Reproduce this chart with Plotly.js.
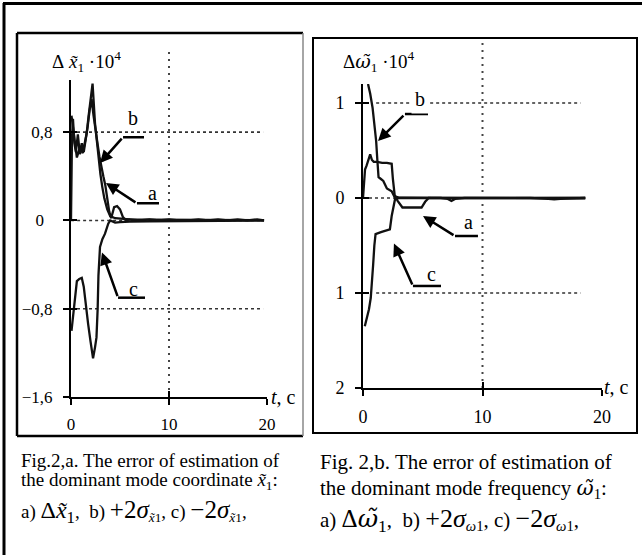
<!DOCTYPE html>
<html><head><meta charset="utf-8">
<script src="https://cdn.plot.ly/plotly-3.0.1.min.js"></script>
<style>html,body{margin:0;padding:0;background:#fff}#chart{width:642px;height:555px}</style>
</head><body><div id="chart"></div>
<script>
// ---------------- DATA ----------------
// Fig.2,a : error of estimation of dominant mode coordinate (x 1e4)
const tL_a = [0, 0.1, 0.2, 0.35, 0.5, 0.7, 0.9, 1.1, 1.3, 1.5, 1.7, 1.9, 2.1, 2.3, 2.5, 2.7, 2.9, 3.1, 3.3, 3.5, 3.7, 3.9, 4.1, 4.4, 4.7, 5.0, 5.3, 5.6, 6, 7, 8, 9, 10, 11, 12, 13, 14, 15, 16, 17, 18, 19, 19.7];
const vL_a = [0, 0.75, 0.92, 0.7, 0.62, 0.78, 0.6, 0.7, 0.62, 0.72, 0.85, 1.0, 1.1, 0.95, 0.8, 0.7, 0.58, 0.48, 0.4, 0.32, 0.2, 0.08, 0.02, 0.12, 0.13, 0.1, 0.03, 0.0, 0.01, 0.0, 0.01, 0.0, 0.01, 0.0, 0.0, 0.01, 0.0, 0.01, 0.0, 0.01, 0.0, 0.01, 0.0];
const tL_b = [0.05, 0.2, 0.4, 0.6, 0.9, 1.2, 1.4, 1.6, 1.8, 1.95, 2.2, 2.45, 2.75, 3.0, 3.2, 3.4, 3.7, 4.0, 4.5, 5, 6, 8, 10, 12, 14, 16, 18, 19.7];
const vL_b = [0.95, 0.85, 0.75, 0.57, 0.66, 0.61, 0.7, 0.79, 0.95, 1.05, 1.24, 0.88, 0.6, 0.42, 0.3, 0.2, 0.1, 0.04, 0.02, 0.015, 0.01, 0.008, 0.006, 0.005, 0.004, 0.003, 0.002, 0.002];
const tL_c = [0.05, 0.2, 0.4, 0.6, 0.85, 1.1, 1.3, 1.45, 1.75, 2.0, 2.25, 2.45, 2.6, 2.72, 2.8, 2.96, 3.2, 3.47, 3.8, 4.0, 4.5, 5, 6, 8, 10, 12, 14, 16, 18, 19.7];
const vL_c = [-1.0, -0.88, -0.73, -0.55, -0.53, -0.52, -0.6, -0.73, -0.94, -1.1, -1.25, -1.15, -1.06, -0.8, -0.5, -0.24, -0.17, -0.12, -0.03, 0, -0.02, -0.015, -0.01, -0.008, -0.006, -0.005, -0.004, -0.003, -0.002, -0.002];

// Fig.2,b : error of estimation of dominant mode frequency (x 1e4)
const tR_a = [0, 0.17, 0.3, 0.45, 0.6, 0.75, 0.9, 1.2, 1.6, 2.0, 2.4, 2.5, 2.65, 2.9, 3.3, 4.0, 4.9, 5.2, 5.5, 6.5, 7.1, 7.4, 7.7, 8.5, 10, 12, 14, 15.5, 16, 16.5, 18.6];
const vR_a = [0, 0.3, 0.34, 0.4, 0.46, 0.4, 0.38, 0.38, 0.37, 0.37, 0.36, 0.2, 0.03, -0.03, -0.1, -0.1, -0.1, -0.04, 0.0, 0.0, -0.01, -0.03, -0.01, 0.0, 0.0, 0.0, 0.0, -0.01, -0.015, -0.01, 0.0];
const tR_b = [0.42, 0.6, 0.8, 0.95, 1.1, 1.2, 1.3, 1.5, 1.7, 2.0, 2.4, 2.6, 3.0, 4, 6, 8, 10, 12, 14, 16, 18.6];
const vR_b = [1.2, 1.1, 0.95, 0.8, 0.6, 0.4, 0.22, 0.2, 0.18, 0.1, 0.07, 0.02, 0.005, 0.003, 0.002, 0.002, 0.001, 0.001, 0.001, 0.001, 0.0];
const tR_c = [0.15, 0.3, 0.5, 0.65, 0.75, 0.85, 0.95, 1.05, 1.5, 2.0, 2.25, 2.4, 2.55, 2.7, 3.0, 4, 6, 8, 10, 12, 14, 16, 18.6];
const vR_c = [-1.35, -1.27, -1.17, -1.05, -0.9, -0.7, -0.5, -0.38, -0.36, -0.34, -0.33, -0.19, -0.08, 0.0, 0.0, -0.002, -0.002, -0.001, -0.001, -0.001, 0, 0, 0];

// ticks and reference levels
const xTicks = [0, 10, 20];
const xTickText = ['0', '10', '20'];
const leftYTicks = [-1.6, -0.8, 0, 0.8];
const leftYTickText = ['\u22121,6', '\u22120,8', '0\u2007', '0,8'];
const rightYTicks = [-2, -1, 0, 1];
const rightYTickText = ['2', '1', '0', '1'];
const leftLevels = [0.8, 0, -0.8];
const rightLevels = [1, 0, -1];
const gridT = 10;

// ---------------- LAYOUT ----------------
const W = 642, H = 555;
const px = x => x / W, py = y => 1 - y / H;
const serif = '"Liberation Serif", "Times New Roman", Times, serif';
const LX = [px(71), px(267)], LY = [py(397), py(80.3)];
const RX = [px(363), px(602)], RY = [py(388), py(84)];
const LRange = [-1.6, 1.27], RRange = [-2, 1.2];

function xAx(domain, anchor, fs, outside) {
  return {domain: domain, range: [0, 20], anchor: anchor, tickmode: 'array', tickvals: xTicks, ticktext: xTickText,
    ticks: outside ? 'outside' : 'inside', ticklen: 6, tickwidth: 2, tickcolor: '#000',
    showticklabels: outside, showline: outside, linewidth: 2, linecolor: '#000',
    showgrid: false, zeroline: false, ticklabelstandoff: 5,
    tickfont: {family: serif, size: fs, color: '#000'}, fixedrange: true};
}
function yAx(domain, anchor, range, vals, text, fs, outside) {
  return {domain: domain, range: range, anchor: anchor, tickmode: 'array', tickvals: vals, ticktext: text,
    ticks: outside ? 'outside' : 'inside', ticklen: 6, tickwidth: 2, tickcolor: '#000',
    showticklabels: outside, showline: outside, linewidth: 2, linecolor: '#000',
    showgrid: false, zeroline: false, ticklabelstandoff: 7,
    tickfont: {family: serif, size: fs, color: '#000'}, fixedrange: true};
}

const curve = {color: '#111', width: 2.3};
const traces = [
  {x: tL_b, y: vL_b, xaxis: 'x', yaxis: 'y', mode: 'lines', line: curve},
  {x: tL_c, y: vL_c, xaxis: 'x', yaxis: 'y', mode: 'lines', line: curve},
  {x: tL_a, y: vL_a, xaxis: 'x', yaxis: 'y', mode: 'lines', line: curve},
  {x: tR_b, y: vR_b, xaxis: 'x2', yaxis: 'y2', mode: 'lines', line: curve},
  {x: tR_c, y: vR_c, xaxis: 'x2', yaxis: 'y2', mode: 'lines', line: curve},
  {x: tR_a, y: vR_a, xaxis: 'x2', yaxis: 'y2', mode: 'lines', line: curve},
  {x: [], y: [], xaxis: 'x3', yaxis: 'y3', mode: 'lines'},
  {x: [], y: [], xaxis: 'x4', yaxis: 'y4', mode: 'lines'}
];

const shapes = [];
const dotH = {color: '#333', width: 1.6, dash: 'dot'};
const dotV = {color: '#444', width: 2, dash: '2px,5px'};
leftLevels.forEach(v => shapes.push({type: 'line', xref: 'x', yref: 'y', x0: v === 0 ? -0.6 : 0, x1: 19.6, y0: v, y1: v, line: dotH, layer: 'below'}));
shapes.push({type: 'line', xref: 'x', yref: 'y domain', x0: gridT, x1: gridT, y0: 0, y1: (397 - 50) / (397 - 80.3), line: dotV, layer: 'below'});
rightLevels.forEach(v => shapes.push({type: 'line', xref: 'x2', yref: 'y2', x0: v === 0 ? 0 : 1.1, x1: 18.2, y0: v, y1: v, line: dotH, layer: 'below'}));
shapes.push({type: 'line', xref: 'x2', yref: 'y2 domain', x0: gridT, x1: gridT, y0: 0, y1: (388 - 40) / (388 - 84), line: dotV, layer: 'below'});
const lead = {color: '#000', width: 2.5};
shapes.push({type: 'line', xref: 'x', yref: 'y', x0: 5.31, x1: 7.45, y0: 0.755, y1: 0.755, line: lead});
shapes.push({type: 'line', xref: 'x', yref: 'y', x0: 6.73, x1: 8.98, y0: 0.155, y1: 0.155, line: lead});
shapes.push({type: 'line', xref: 'x', yref: 'y', x0: 4.8, x1: 7.55, y0: -0.70, y1: -0.70, line: lead});
shapes.push({type: 'line', xref: 'x2', yref: 'y2', x0: 3.51, x1: 5.44, y0: 0.884, y1: 0.884, line: lead});
shapes.push({type: 'line', xref: 'x2', yref: 'y2', x0: 7.7, x1: 9.62, y0: -0.4, y1: -0.4, line: lead});
shapes.push({type: 'line', xref: 'x2', yref: 'y2', x0: 4.18, x1: 6.53, y0: -0.926, y1: -0.926, line: lead});
const pl = (x0, y0, x1, y1, c, w) => ({type: 'line', xref: 'paper', yref: 'paper', x0: px(x0), x1: px(x1), y0: py(y0), y1: py(y1), line: {color: c, width: w}});
shapes.push(pl(3, 3.5, 642, 3.5, '#000', 3));
shapes.push(pl(4, 3, 4, 555, '#000', 3));
shapes.push(pl(17, 33, 303, 33, '#000', 2.5));
shapes.push(pl(17, 33, 17, 436, '#000', 2.5));
shapes.push(pl(17, 436, 303, 436, '#000', 2.5));
shapes.push(pl(303, 33, 303, 436, '#888', 1.5));
shapes.push({type: 'rect', xref: 'paper', yref: 'paper', x0: px(313), x1: px(637), y0: py(433), y1: py(38), line: {color: '#000', width: 2}});

const annotations = [];
function arrow(xr, yr, tx, ty, ax, ay) {
  annotations.push({xref: xr, yref: yr, axref: xr, ayref: yr, x: tx, y: ty, ax: ax, ay: ay, text: '',
    showarrow: true, arrowhead: 2, arrowsize: 1, arrowwidth: 2.5, arrowcolor: '#000', standoff: 0});
}
function label(xr, yr, x, y, t, fs, bg) {
  annotations.push({xref: xr, yref: yr, x: x, y: y, text: t, showarrow: false, xanchor: 'center', yanchor: 'middle',
    font: {family: serif, size: fs, color: '#000'}, bgcolor: bg || 'rgba(0,0,0,0)', borderpad: 3});
}
arrow('x', 'y', 2.96, 0.52, 5.31, 0.755);
arrow('x', 'y', 3.57, 0.34, 6.73, 0.155);
arrow('x', 'y', 3.16, -0.29, 4.8, -0.70);
label('x', 'y', 6.33, 0.93, 'b', 20);
label('x', 'y', 8.27, 0.245, 'a', 20);
label('x', 'y', 6.33, -0.62, 'c', 20);
arrow('x2', 'y2', 1.26, 0.6, 3.51, 0.884);
arrow('x2', 'y2', 5.02, -0.19, 7.7, -0.4);
arrow('x2', 'y2', 2.59, -0.48, 4.18, -0.926);
label('x2', 'y2', 4.77, 1.04, 'b', 20, '#fff');
label('x2', 'y2', 8.79, -0.253, 'a', 20);
label('x2', 'y2', 5.77, -0.8, 'c', 20);

function ptext(x, y, t, fs, anchor) {
  annotations.push({xref: 'paper', yref: 'paper', x: px(x), y: py(y), text: t, showarrow: false,
    xanchor: anchor || 'left', yanchor: 'middle', align: 'left', font: {family: serif, size: fs, color: '#000'}});
}
const xt = '<i>x\u0303</i>';
const wt = "<span style=\"font-family:'DejaVu Serif';font-style:italic\">\u03c9\u0303</span>";
ptext(50, 62, '\u0394\u00a0' + xt + '<sub>1</sub>\u00a0\u00b710<sup>4</sup>', 19);
ptext(341, 62, '\u0394' + wt + '<sub>1</sub>\u00a0\u00b710<sup>4</sup>', 19);
ptext(269, 397, '<i>t</i>, c', 20);
ptext(602, 387, '<i>t</i>, c', 20);
ptext(19, 460, 'Fig.2,a. The error of estimation of', 19);
ptext(19, 481, 'the dominant mode coordinate ' + xt + '<sub>1</sub>:', 19);
ptext(19, 511, 'a) <span style="font-size:24px">\u0394' + xt + '<sub>1</sub></span>,\u00a0 b) <span style="font-size:25px">+2<i>\u03c3</i></span><sub>' + xt + '1</sub>, c) <span style="font-size:25px">\u22122<i>\u03c3</i></span><sub>' + xt + '1</sub>,', 19);
ptext(318, 462, 'Fig. 2,b. The error of estimation of', 21);
ptext(318, 489, 'the dominant mode frequency ' + wt + '<sub>1</sub>:', 21);
ptext(318, 520, 'a) <span style="font-size:25px">\u0394' + wt + '<sub>1</sub></span>,\u00a0 b) <span style="font-size:26px">+2<i>\u03c3</i></span><sub><i>\u03c9</i>1</sub>, c) <span style="font-size:26px">\u22122<i>\u03c3</i></span><sub><i>\u03c9</i>1</sub>,', 21);

const layout = {
  width: W, height: H, margin: {l: 0, r: 0, t: 0, b: 0, pad: 0},
  paper_bgcolor: '#fff', plot_bgcolor: 'rgba(0,0,0,0)', showlegend: false,
  font: {family: serif, color: '#000'},
  xaxis: xAx(LX, 'y', 17, true),
  yaxis: yAx(LY, 'x', LRange, leftYTicks, leftYTickText, 17, true),
  xaxis3: Object.assign(xAx(LX, 'y3', 17, false), {overlaying: 'x'}),
  yaxis3: Object.assign(yAx(LY, 'x3', LRange, leftYTicks, leftYTickText, 17, false), {overlaying: 'y'}),
  xaxis2: xAx(RX, 'y2', 18, true),
  yaxis2: yAx(RY, 'x2', RRange, rightYTicks, rightYTickText, 18, true),
  xaxis4: Object.assign(xAx(RX, 'y4', 18, false), {overlaying: 'x2'}),
  yaxis4: Object.assign(yAx(RY, 'x4', RRange, rightYTicks, rightYTickText, 18, false), {overlaying: 'y2'}),
  shapes: shapes, annotations: annotations, hovermode: false
};
Plotly.newPlot('chart', traces, layout, {staticPlot: true, displayModeBar: false});
</script>
</body></html>
